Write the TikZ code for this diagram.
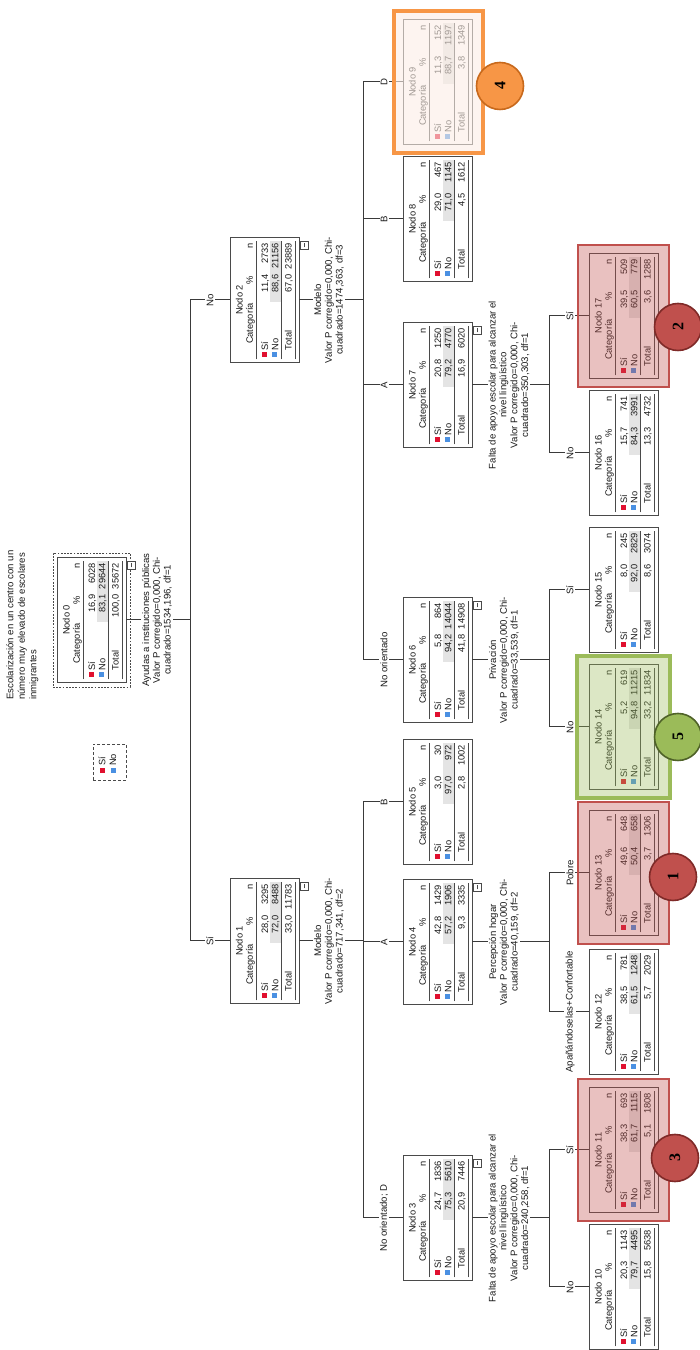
\documentclass[tikz,border=0pt]{standalone}
\usepackage{fontspec}
\setmainfont{Liberation Sans}
\newfontfamily\bdgfont{Liberation Serif}
\definecolor{linec}{HTML}{3A3A3A}
\definecolor{boxc}{HTML}{4A4A4A}
\definecolor{txtc}{HTML}{1A1A1A}
\definecolor{sired}{HTML}{E0102F}
\definecolor{noblue}{HTML}{4A90E2}
\definecolor{bandg}{HTML}{E4E4E4}
\definecolor{hlred}{HTML}{C0504D}
\definecolor{hlgreen}{HTML}{9BBB59}
\definecolor{hlorange}{HTML}{F79646}
\definecolor{hlorangefill}{HTML}{FCEEE6}
\definecolor{bdgredd}{HTML}{7F2A28}
\definecolor{bdggreend}{HTML}{4F6228}
\definecolor{bdgoranged}{HTML}{C8691C}
\tikzset{
 nbox/.style={draw=boxc, line width=0.9pt, fill=white, minimum width=125pt, minimum height=69pt, inner sep=0pt, outer sep=0pt},
 ntxt/.style={font=\fontsize{9.3}{10}\selectfont, inner sep=0pt, text=txtc},
 sqmark/.style={minimum size=5pt, inner sep=0pt, outer sep=0pt},
 splitlbl/.style={font=\fontsize{9.6}{10.8}\selectfont, align=center, fill=white, inner sep=1pt, text=txtc},
 brlbl/.style={font=\fontsize{9.6}{10}\selectfont, fill=white, inner sep=1.2pt, text=txtc},
 conn/.style={draw=linec, line width=1pt},
 badge/.style={circle, minimum size=47pt, inner sep=0pt, line width=1.6pt, text=black, font=\bdgfont\bfseries\fontsize{16}{16}\selectfont},
 hlredbox/.style={draw=hlred, line width=2.8pt, fill=hlred, fill opacity=0.35},
 hlgreenbox/.style={draw=hlgreen, line width=3.5pt, fill=hlgreen, fill opacity=0.35},
 hlorangebox/.style={draw=hlorange, line width=3.5pt, fill=hlorangefill, fill opacity=0.6}
}
\def\tsplit#1/#2\relax{\def\tpct{#1}\def\tcnt{#2}}
% #1 name, #2 u centre, #3 v top, #4 number, #5 si %, #6 si n, #7 no %, #8 no n, #9 total%/total n
\newcommand\tnode[9]{%
 \tsplit#9\relax
 \begin{scope}[shift={(#2-62.5,-#3)}]
  \node[nbox, anchor=north west] (#1) at (0,0) {};
  \fill[bandg] (60,-40) rectangle (121,-50.5);
  \draw[boxc, line width=0.7pt] (3,-26.5) -- (121,-26.5) (3,-51.5) -- (121,-51.5) (3,-65.5) -- (121,-65.5);
  \node[ntxt, anchor=base] (#1-t) at (62.5,-12.5) {Nodo #4};
  \node[ntxt, anchor=base] (#1-hc) at (39,-22.8) {Categoría};
  \node[ntxt, anchor=base east] (#1-hp) at (86,-22.8) {\%};
  \node[ntxt, anchor=base east] (#1-hn) at (119,-22.8) {n};
  \node[sqmark, fill=sired] (#1-ms) at (7.5,-34.5) {};
  \node[sqmark, fill=noblue] (#1-mn) at (7.5,-44.8) {};
  \node[ntxt, anchor=base west] (#1-ls) at (12,-38) {Sí};
  \node[ntxt, anchor=base west] (#1-ln) at (12,-48.3) {No};
  \node[ntxt, anchor=base west] (#1-lt) at (12,-61.5) {Total};
  \node[ntxt, anchor=base east] (#1-ps) at (88,-38) {#5};
  \node[ntxt, anchor=base east] (#1-pn) at (88,-48.3) {#7};
  \node[ntxt, anchor=base east] (#1-pt) at (88,-61.5) {\tpct};
  \node[ntxt, anchor=base east] (#1-cs) at (119.5,-38) {#6};
  \node[ntxt, anchor=base east] (#1-cn) at (119.5,-48.3) {#8};
  \node[ntxt, anchor=base east] (#1-ct) at (119.5,-61.5) {\tcnt};
 \end{scope}}
% collapse marker below the bottom-right corner: #1 u centre, #2 v top
\newcommand\collapsemark[2]{%
 \begin{scope}[shift={(#1-62.5,-#2)}]
  \draw[boxc, line width=0.7pt, fill=white] (113,-70) rectangle (121,-78);
  \draw[boxc, line width=0.7pt] (115,-74) -- (119,-74);
 \end{scope}}
\begin{document}
\begin{tikzpicture}[x=1pt,y=1pt]
\begin{scope}[rotate=90, transform shape]
\fill[white] (0,0) rectangle (1350,-700);
\useasboundingbox (0,0) rectangle (1350,-700);

% title
\node[anchor=north west, align=left, inner sep=0pt, text=txtc, font=\fontsize{9.6}{11.6}\selectfont] (title) at (650,-6) {Escolarización en un centro con un\\número muy elevado de escolares\\inmigrantes};

% legend
\draw[boxc, line width=0.8pt, dash pattern=on 3pt off 2pt] (570,-93) rectangle (606,-126);
\node[sqmark, fill=sired] (legs) at (579,-102) {};
\node[sqmark, fill=noblue] (legn) at (579,-113) {};
\node[ntxt, anchor=west] (legst) at (584,-102) {Sí};
\node[ntxt, anchor=west] (legnt) at (584,-113) {No};

% nodes
\tnode{n0}{730}{57}{0}{16,9}{6028}{83,1}{29644}{100,0/35672}
\tnode{n1}{409}{230}{1}{28,0}{3295}{72,0}{8488}{33,0/11783}
\tnode{n2}{1050}{230}{2}{11,4}{2733}{88,6}{21156}{67,0/23889}
\tnode{n3}{132}{403}{3}{24,7}{1836}{75,3}{5610}{20,9/7446}
\tnode{n4}{408}{403}{4}{42,8}{1429}{57,2}{1906}{9,3/3335}
\tnode{n5}{548}{403}{5}{3,0}{30}{97,0}{972}{2,8/1002}
\tnode{n6}{690}{403}{6}{5,8}{864}{94,2}{14044}{41,8/14908}
\tnode{n7}{965}{403}{7}{20,8}{1250}{79,2}{4770}{16,9/6020}
\tnode{n8}{1131}{403}{8}{29,0}{467}{71,0}{1145}{4,5/1612}
\tnode{n9}{1268}{403}{9}{11,3}{152}{88,7}{1197}{3,8/1349}
\tnode{n10}{63}{589}{10}{20,3}{1143}{79,7}{4495}{15,8/5638}
\tnode{n11}{200}{589}{11}{38,3}{693}{61,7}{1115}{5,1/1808}
\tnode{n12}{338}{589}{12}{38,5}{781}{61,5}{1248}{5,7/2029}
\tnode{n13}{477}{589}{13}{49,6}{648}{50,4}{658}{3,7/1306}
\tnode{n14}{623}{589}{14}{5,2}{619}{94,8}{11215}{33,2/11834}
\tnode{n15}{760}{589}{15}{8,0}{245}{92,0}{2829}{8,6/3074}
\tnode{n16}{897}{589}{16}{15,7}{741}{84,3}{3991}{13,3/4732}
\tnode{n17}{1034}{589}{17}{39,5}{509}{60,5}{779}{3,6/1288}

% selected node frame
\draw[boxc, line width=0.8pt, dash pattern=on 1.8pt off 1.4pt] (663,-53) rectangle (797,-130);

% collapse markers
\collapsemark{730}{57}
\collapsemark{409}{230}
\collapsemark{1050}{230}
\collapsemark{132}{403}
\collapsemark{408}{403}
\collapsemark{690}{403}
\collapsemark{965}{403}

% connectors: split of node 0
\coordinate (s0) at (730,-190);
\coordinate (s0-1) at (409,-190);
\coordinate (s0-2) at (1050,-190);
\draw[conn] (n0.south) -- (s0);
\draw[conn] (n1.north) -- (s0-1) -- (s0-2) -- (n2.north);
% split of node 1
\coordinate (s1) at (409,-363);
\coordinate (s1-3) at (132,-363);
\coordinate (s1-4) at (408,-363);
\coordinate (s1-5) at (548,-363);
\draw[conn] (n1.south) -- (s1);
\draw[conn] (n3.north) -- (s1-3) -- (s1-5) -- (n5.north);
\draw[conn] (s1-4) -- (n4.north);
% split of node 2
\coordinate (s2) at (1050,-363);
\coordinate (s2-6) at (690,-363);
\coordinate (s2-7) at (965,-363);
\coordinate (s2-8) at (1131,-363);
\coordinate (s2-9) at (1268,-363);
\draw[conn] (n2.south) -- (s2);
\draw[conn] (n6.north) -- (s2-6) -- (s2-9) -- (n9.north);
\draw[conn] (s2-7) -- (n7.north);
\draw[conn] (s2-8) -- (n8.north);
% split of node 3
\coordinate (s3) at (132,-549);
\coordinate (s3-10) at (63,-549);
\coordinate (s3-11) at (200,-549);
\draw[conn] (n3.south) -- (s3);
\draw[conn] (n10.north) -- (s3-10) -- (s3-11) -- (n11.north);
% split of node 4
\coordinate (s4) at (408,-549);
\coordinate (s4-12) at (338,-549);
\coordinate (s4-13) at (477,-549);
\draw[conn] (n4.south) -- (s4);
\draw[conn] (n12.north) -- (s4-12) -- (s4-13) -- (n13.north);
% split of node 6
\coordinate (s6) at (690,-549);
\coordinate (s6-14) at (623,-549);
\coordinate (s6-15) at (760,-549);
\draw[conn] (n6.south) -- (s6);
\draw[conn] (n14.north) -- (s6-14) -- (s6-15) -- (n15.north);
% split of node 7
\coordinate (s7) at (965,-549);
\coordinate (s7-16) at (897,-549);
\coordinate (s7-17) at (1034,-549);
\draw[conn] (n7.south) -- (s7);
\draw[conn] (n16.north) -- (s7-16) -- (s7-17) -- (n17.north);

% split labels
\node[splitlbl] (l0) at (730,-157) {Ayudas a instituciones públicas\\Valor P corregido=0,000, Chi-\\cuadrado=1534,196, df=1};
\node[splitlbl] (l1) at (409,-329) {Modelo\\Valor P corregido=0,000, Chi-\\cuadrado=717,341, df=2};
\node[splitlbl] (l2) at (1050,-329) {Modelo\\Valor P corregido=0,000, Chi-\\cuadrado=1474,363, df=3};
\node[splitlbl] (l3) at (132,-509) {Falta de apoyo escolar para alcanzar el\\nivel lingüístico\\Valor P corregido=0,000, Chi-\\cuadrado=240,258, df=1};
\node[splitlbl] (l4) at (408,-504) {Percepción hogar\\Valor P corregido=0,000, Chi-\\cuadrado=40,159, df=2};
\node[splitlbl] (l6) at (690,-504) {Privación\\Valor P corregido=0,000, Chi-\\cuadrado=33,539, df=1};
\node[splitlbl] (l7) at (965,-509) {Falta de apoyo escolar para alcanzar el\\nivel lingüístico\\Valor P corregido=0,000, Chi-\\cuadrado=350,303, df=1};

% branch labels
\node[brlbl] (b1) at (409,-210) {Sí};
\node[brlbl] (b2) at (1050,-210) {No};
\node[brlbl] (b3) at (132,-384) {No orientado; D};
\node[brlbl] (b4) at (408,-384) {A};
\node[brlbl] (b5) at (548,-384) {B};
\node[brlbl] (b6) at (690,-384) {No orientado};
\node[brlbl] (b7) at (965,-384) {A};
\node[brlbl] (b8) at (1131,-384) {B};
\node[brlbl] (b9) at (1268,-384) {D};
\node[brlbl] (b10) at (63,-570) {No};
\node[brlbl] (b11) at (200,-570) {Sí};
\node[brlbl] (b12) at (338,-570) {Apañándoselas+Confortable};
\node[brlbl] (b13) at (477,-570) {Pobre};
\node[brlbl] (b14) at (623,-570) {No};
\node[brlbl] (b15) at (760,-570) {Sí};
\node[brlbl] (b16) at (897,-570) {No};
\node[brlbl] (b17) at (1034,-570) {Sí};

% highlights
\path[hlredbox] (129,-578) rectangle (271,-669);
\path[hlredbox] (406,-578) rectangle (548,-669);
\path[hlgreenbox] (552,-577) rectangle (694,-670);
\path[hlredbox] (963,-578) rectangle (1105,-669);
\path[hlorangebox] (1197,-394) rectangle (1339,-483);

% badges
\node[badge, fill=hlred, draw=bdgredd] (g3) at (192,-675) {3};
\node[badge, fill=hlred, draw=bdgredd] (g1) at (473,-673) {1};
\node[badge, fill=hlgreen, draw=bdggreend] (g5) at (613,-678) {5};
\node[badge, fill=hlred, draw=bdgredd] (g2) at (1023,-678) {2};
\node[badge, fill=hlorange, draw=bdgoranged] (g4) at (1264,-500) {4};
\end{scope}
\end{tikzpicture}
\end{document}
